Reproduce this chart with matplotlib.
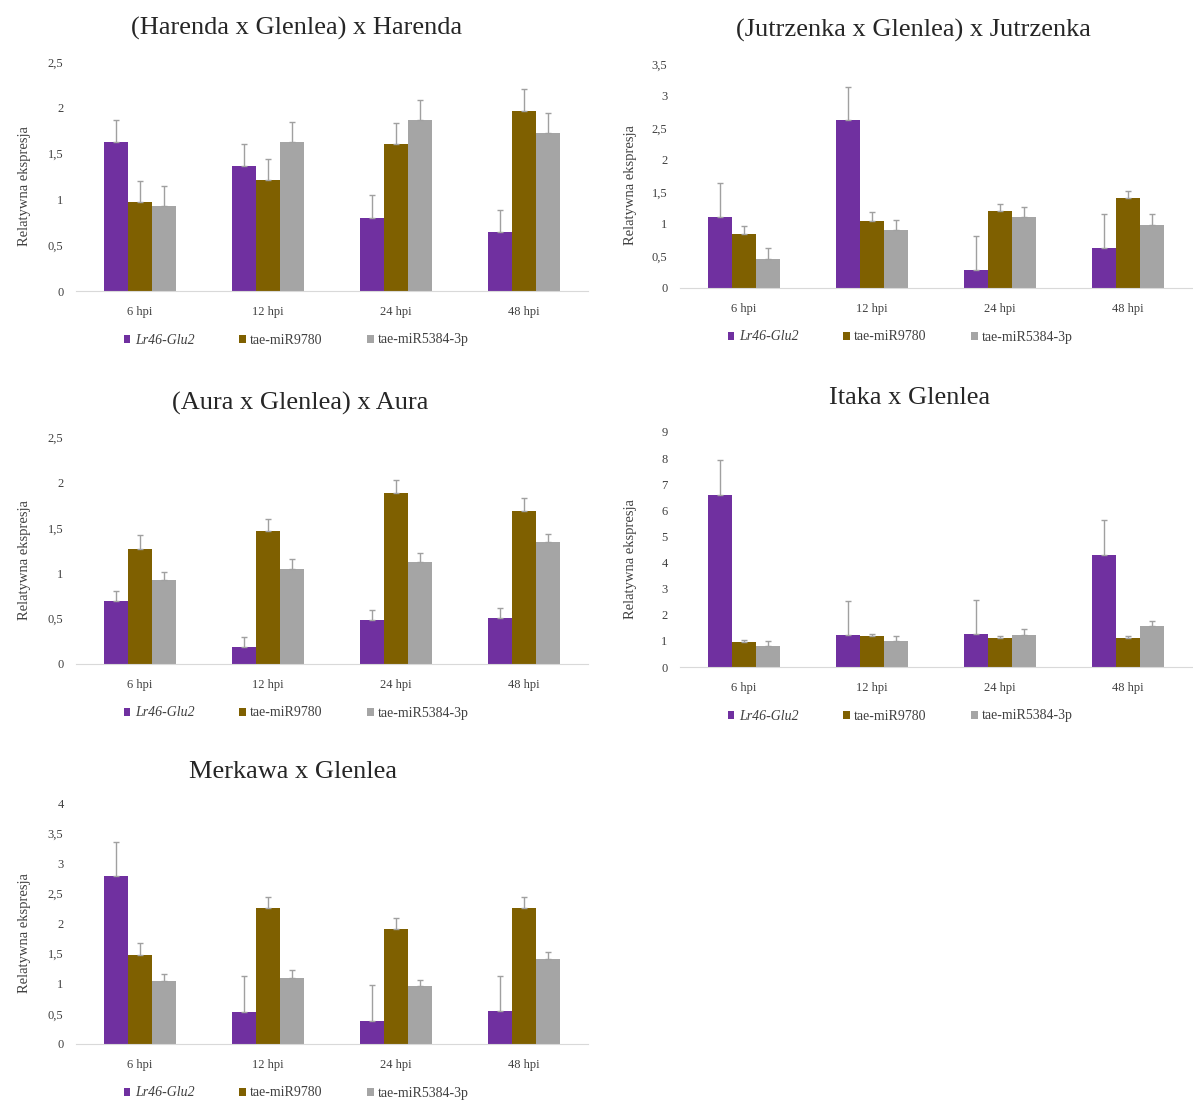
import numpy as np
import matplotlib
matplotlib.use("Agg")
import matplotlib.pyplot as plt

plt.rcParams['font.family'] = ['Liberation Serif', 'DejaVu Serif']

W, H = 1193, 1102

categories = ["6 hpi", "12 hpi", "24 hpi", "48 hpi"]
series_names = ["Lr46-Glu2", "tae-miR9780", "tae-miR5384-3p"]
colors = ["#7030A0", "#7F6000", "#A5A5A5"]

# (Harenda x Glenlea) x Harenda
harenda_lr = [1.63, 1.37, 0.80, 0.64]
harenda_lr_err = [0.24, 0.23, 0.25, 0.24]
harenda_97 = [0.97, 1.21, 1.60, 1.97]
harenda_97_err = [0.23, 0.23, 0.23, 0.23]
harenda_53 = [0.93, 1.63, 1.87, 1.72]
harenda_53_err = [0.22, 0.21, 0.21, 0.22]

# (Jutrzenka x Glenlea) x Jutrzenka
jutrz_lr = [1.11, 2.63, 0.28, 0.62]
jutrz_lr_err = [0.53, 0.51, 0.53, 0.53]
jutrz_97 = [0.85, 1.04, 1.20, 1.40]
jutrz_97_err = [0.12, 0.14, 0.12, 0.12]
jutrz_53 = [0.46, 0.91, 1.11, 0.99]
jutrz_53_err = [0.17, 0.15, 0.16, 0.16]

# (Aura x Glenlea) x Aura
aura_lr = [0.69, 0.19, 0.48, 0.51]
aura_lr_err = [0.11, 0.11, 0.12, 0.11]
aura_97 = [1.27, 1.46, 1.88, 1.69]
aura_97_err = [0.15, 0.14, 0.15, 0.14]
aura_53 = [0.92, 1.05, 1.12, 1.34]
aura_53_err = [0.09, 0.11, 0.10, 0.09]

# Itaka x Glenlea
itaka_lr = [6.58, 1.21, 1.25, 4.30]
itaka_lr_err = [1.36, 1.32, 1.33, 1.32]
itaka_97 = [0.96, 1.19, 1.11, 1.11]
itaka_97_err = [0.09, 0.06, 0.08, 0.08]
itaka_53 = [0.80, 0.98, 1.24, 1.56]
itaka_53_err = [0.20, 0.22, 0.23, 0.20]

# Merkawa x Glenlea
merk_lr = [2.79, 0.53, 0.39, 0.54]
merk_lr_err = [0.57, 0.60, 0.59, 0.59]
merk_97 = [1.48, 2.25, 1.91, 2.25]
merk_97_err = [0.20, 0.19, 0.18, 0.19]
merk_53 = [1.04, 1.10, 0.96, 1.41]
merk_53_err = [0.12, 0.13, 0.11, 0.12]

# title, values, errors, ymax, ystep, axes box in pixels (left, top, right, bottom), title pos, ylabel x
panels = [
    ("(Harenda x Glenlea) x Harenda", [harenda_lr, harenda_97, harenda_53],
     [harenda_lr_err, harenda_97_err, harenda_53_err], 2.5, 0.5, (76, 62, 588, 291), (297, 28), 31),
    ("(Jutrzenka x Glenlea) x Jutrzenka", [jutrz_lr, jutrz_97, jutrz_53],
     [jutrz_lr_err, jutrz_97_err, jutrz_53_err], 3.5, 0.5, (680, 64, 1192, 288), (913, 30), 637),
    ("(Aura x Glenlea) x Aura", [aura_lr, aura_97, aura_53],
     [aura_lr_err, aura_97_err, aura_53_err], 2.5, 0.5, (76, 437, 588, 664), (300, 403), 31),
    ("Itaka x Glenlea", [itaka_lr, itaka_97, itaka_53],
     [itaka_lr_err, itaka_97_err, itaka_53_err], 9, 1, (680, 432, 1192, 667), (910, 398), 637),
    ("Merkawa x Glenlea", [merk_lr, merk_97, merk_53],
     [merk_lr_err, merk_97_err, merk_53_err], 4, 0.5, (76, 803, 588, 1044), (293, 772), 31),
]

fig = plt.figure(figsize=(W / 100, H / 100), dpi=100)

x = np.arange(len(categories))
bw = 0.19
txtc = "#404040"

def fmt(v):
    return ("%g" % v).replace(".", ",")

for title, vals, errs, ymax, ystep, box, tpos, ylx in panels:
    l, t, r, b = box
    ax = fig.add_axes([l / W, 1 - b / H, (r - l) / W, (b - t) / H])
    for i in range(3):
        ax.bar(x + (i - 1) * bw, vals[i], bw, color=colors[i], label=series_names[i], zorder=2)
        ax.errorbar(x + (i - 1) * bw, vals[i], yerr=[np.zeros(4), errs[i]], fmt='none',
                    ecolor="#a0a0a0", elinewidth=1, capsize=2.5, capthick=1, zorder=3)
    ax.set_xlim(-0.5, 3.5)
    ax.set_ylim(0, ymax)
    ticks = np.arange(0, ymax + 1e-9, ystep)
    ax.set_yticks(ticks)
    ax.set_yticklabels([fmt(v) for v in ticks], fontsize=9, color=txtc)
    ax.set_xticks(x)
    ax.set_xticklabels(categories, fontsize=9, color=txtc)
    ax.tick_params(axis='x', length=0, pad=11)
    ax.tick_params(axis='y', length=0, pad=9)
    for s in ["top", "right", "left"]:
        ax.spines[s].set_visible(False)
    ax.spines["bottom"].set_color("#D9D9D9")
    ax.set_ylabel("Relatywna ekspresja", fontsize=10.5, color=txtc)
    ax.yaxis.set_label_coords((ylx - l) / (r - l), 0.46)
    fig.text(tpos[0] / W, 1 - tpos[1] / H, title, fontsize=19, color="#262626",
             ha="center", va="center")
    leg = ax.legend(loc="center", bbox_to_anchor=(0.43, -49 / (b - t)), ncol=3, frameon=False,
                    fontsize=10, handlelength=0.5, handleheight=0.5, handletextpad=0.3,
                    columnspacing=3.2)
    for txt in leg.get_texts():
        txt.set_color(txtc)
    leg.get_texts()[0].set_style("italic")

fig.savefig("out.png", dpi=100, facecolor="white")
